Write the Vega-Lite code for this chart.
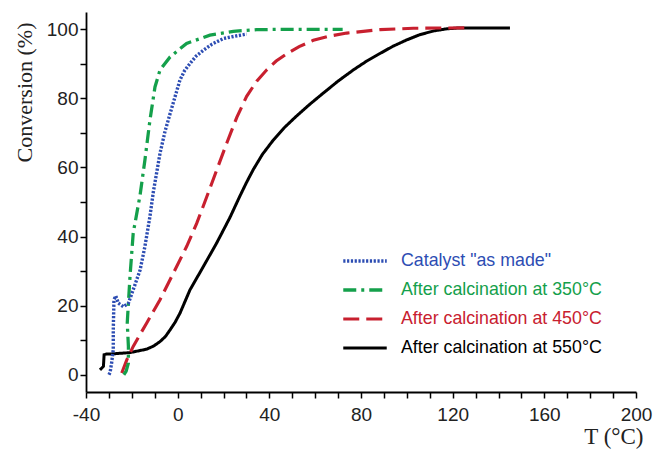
{
  "$schema": "https://vega.github.io/schema/vega-lite/v6.json",
  "autosize": {"type": "none"},
  "padding": {"left": 86, "top": 12, "right": 19, "bottom": 57},
  "width": 550,
  "height": 380,
  "background": "white",
  "config": {"view": {"stroke": null}},
  "data": {"values": [
    {"s": "After calcination at 550°C", "i": 1, "T": -33.9, "C": 1.4},
    {"s": "After calcination at 550°C", "i": 2, "T": -32.4, "C": 2.4},
    {"s": "After calcination at 550°C", "i": 3, "T": -32.1, "C": 5.8},
    {"s": "After calcination at 550°C", "i": 4, "T": -31, "C": 6},
    {"s": "After calcination at 550°C", "i": 5, "T": -29.5, "C": 6},
    {"s": "After calcination at 550°C", "i": 6, "T": -20.8, "C": 6.4},
    {"s": "After calcination at 550°C", "i": 7, "T": -13.5, "C": 7.4},
    {"s": "After calcination at 550°C", "i": 8, "T": -10.5, "C": 8.3},
    {"s": "After calcination at 550°C", "i": 9, "T": -7.7, "C": 9.6},
    {"s": "After calcination at 550°C", "i": 10, "T": -5.3, "C": 11.1},
    {"s": "After calcination at 550°C", "i": 11, "T": -3.3, "C": 13},
    {"s": "After calcination at 550°C", "i": 12, "T": -1.1, "C": 15.2},
    {"s": "After calcination at 550°C", "i": 13, "T": 1.0, "C": 17.8},
    {"s": "After calcination at 550°C", "i": 14, "T": 5.4, "C": 24.6},
    {"s": "After calcination at 550°C", "i": 15, "T": 11.2, "C": 31.3},
    {"s": "After calcination at 550°C", "i": 16, "T": 17.0, "C": 38.1},
    {"s": "After calcination at 550°C", "i": 17, "T": 22.8, "C": 45.5},
    {"s": "After calcination at 550°C", "i": 18, "T": 27.0, "C": 51.5},
    {"s": "After calcination at 550°C", "i": 19, "T": 30.0, "C": 55.6},
    {"s": "After calcination at 550°C", "i": 20, "T": 33.0, "C": 59.4},
    {"s": "After calcination at 550°C", "i": 21, "T": 37.0, "C": 63.8},
    {"s": "After calcination at 550°C", "i": 22, "T": 41.7, "C": 67.9},
    {"s": "After calcination at 550°C", "i": 23, "T": 46.5, "C": 71.5},
    {"s": "After calcination at 550°C", "i": 24, "T": 51.9, "C": 74.9},
    {"s": "After calcination at 550°C", "i": 25, "T": 57.5, "C": 78.2},
    {"s": "After calcination at 550°C", "i": 26, "T": 63.5, "C": 81.5},
    {"s": "After calcination at 550°C", "i": 27, "T": 70, "C": 85},
    {"s": "After calcination at 550°C", "i": 28, "T": 76.6, "C": 88.2},
    {"s": "After calcination at 550°C", "i": 29, "T": 82.5, "C": 90.8},
    {"s": "After calcination at 550°C", "i": 30, "T": 88.3, "C": 93},
    {"s": "After calcination at 550°C", "i": 31, "T": 94, "C": 95.1},
    {"s": "After calcination at 550°C", "i": 32, "T": 99.9, "C": 96.9},
    {"s": "After calcination at 550°C", "i": 33, "T": 105.5, "C": 98.4},
    {"s": "After calcination at 550°C", "i": 34, "T": 111.6, "C": 99.5},
    {"s": "After calcination at 550°C", "i": 35, "T": 117, "C": 100.1},
    {"s": "After calcination at 550°C", "i": 36, "T": 123.2, "C": 100.4},
    {"s": "After calcination at 550°C", "i": 37, "T": 145, "C": 100.4},
    {"s": "After calcination at 450°C", "i": 1, "T": -24.4, "C": 0.5},
    {"s": "After calcination at 450°C", "i": 2, "T": -22.2, "C": 4.3},
    {"s": "After calcination at 450°C", "i": 3, "T": -19.4, "C": 8.2},
    {"s": "After calcination at 450°C", "i": 4, "T": -13.5, "C": 15},
    {"s": "After calcination at 450°C", "i": 5, "T": -7.7, "C": 21.7},
    {"s": "After calcination at 450°C", "i": 6, "T": -1.9, "C": 29.4},
    {"s": "After calcination at 450°C", "i": 7, "T": 3.9, "C": 37.1},
    {"s": "After calcination at 450°C", "i": 8, "T": 8.3, "C": 43.8},
    {"s": "After calcination at 450°C", "i": 9, "T": 12.7, "C": 51.5},
    {"s": "After calcination at 450°C", "i": 10, "T": 17.0, "C": 59.2},
    {"s": "After calcination at 450°C", "i": 11, "T": 21.4, "C": 67},
    {"s": "After calcination at 450°C", "i": 12, "T": 25.8, "C": 74.5},
    {"s": "After calcination at 450°C", "i": 13, "T": 30.1, "C": 80.6},
    {"s": "After calcination at 450°C", "i": 14, "T": 34.5, "C": 85},
    {"s": "After calcination at 450°C", "i": 15, "T": 38.8, "C": 88.2},
    {"s": "After calcination at 450°C", "i": 16, "T": 43, "C": 90.8},
    {"s": "After calcination at 450°C", "i": 17, "T": 47.6, "C": 92.9},
    {"s": "After calcination at 450°C", "i": 18, "T": 53, "C": 95},
    {"s": "After calcination at 450°C", "i": 19, "T": 59.2, "C": 96.8},
    {"s": "After calcination at 450°C", "i": 20, "T": 66, "C": 98},
    {"s": "After calcination at 450°C", "i": 21, "T": 73.8, "C": 98.9},
    {"s": "After calcination at 450°C", "i": 22, "T": 88.3, "C": 99.9},
    {"s": "After calcination at 450°C", "i": 23, "T": 102.8, "C": 100.3},
    {"s": "After calcination at 450°C", "i": 24, "T": 126, "C": 100.4},
    {"s": "After calcination at 350°C", "i": 1, "T": -23.5, "C": 0},
    {"s": "After calcination at 350°C", "i": 2, "T": -22.5, "C": 1},
    {"s": "After calcination at 350°C", "i": 3, "T": -21.5, "C": 3.4},
    {"s": "After calcination at 350°C", "i": 4, "T": -21.5, "C": 8.2},
    {"s": "After calcination at 350°C", "i": 5, "T": -22, "C": 15},
    {"s": "After calcination at 350°C", "i": 6, "T": -21.5, "C": 20.7},
    {"s": "After calcination at 350°C", "i": 7, "T": -20.8, "C": 28.4},
    {"s": "After calcination at 350°C", "i": 8, "T": -19.4, "C": 41},
    {"s": "After calcination at 350°C", "i": 9, "T": -16.4, "C": 52},
    {"s": "After calcination at 350°C", "i": 10, "T": -14.3, "C": 62.1},
    {"s": "After calcination at 350°C", "i": 11, "T": -12.1, "C": 73.7},
    {"s": "After calcination at 350°C", "i": 12, "T": -9.9, "C": 83.3},
    {"s": "After calcination at 350°C", "i": 13, "T": -7.7, "C": 88.2},
    {"s": "After calcination at 350°C", "i": 14, "T": -3.3, "C": 92},
    {"s": "After calcination at 350°C", "i": 15, "T": 3.9, "C": 95.9},
    {"s": "After calcination at 350°C", "i": 16, "T": 14.1, "C": 98.3},
    {"s": "After calcination at 350°C", "i": 17, "T": 24.3, "C": 99.4},
    {"s": "After calcination at 350°C", "i": 18, "T": 34.5, "C": 99.9},
    {"s": "After calcination at 350°C", "i": 19, "T": 50, "C": 100},
    {"s": "After calcination at 350°C", "i": 20, "T": 72, "C": 100},
    {"s": "Catalyst \"as made\"", "i": 1, "T": -30, "C": 0},
    {"s": "Catalyst \"as made\"", "i": 2, "T": -29.5, "C": 0.6},
    {"s": "Catalyst \"as made\"", "i": 3, "T": -28.8, "C": 3.5},
    {"s": "Catalyst \"as made\"", "i": 4, "T": -28.1, "C": 7.2},
    {"s": "Catalyst \"as made\"", "i": 5, "T": -28.1, "C": 13},
    {"s": "Catalyst \"as made\"", "i": 6, "T": -27.8, "C": 21.7},
    {"s": "Catalyst \"as made\"", "i": 7, "T": -27, "C": 22.8},
    {"s": "Catalyst \"as made\"", "i": 8, "T": -25.9, "C": 20.7},
    {"s": "Catalyst \"as made\"", "i": 9, "T": -23.7, "C": 19.7},
    {"s": "Catalyst \"as made\"", "i": 10, "T": -21.5, "C": 20.7},
    {"s": "Catalyst \"as made\"", "i": 11, "T": -19.4, "C": 24.6},
    {"s": "Catalyst \"as made\"", "i": 12, "T": -16.4, "C": 30.3},
    {"s": "Catalyst \"as made\"", "i": 13, "T": -14.3, "C": 37.1},
    {"s": "Catalyst \"as made\"", "i": 14, "T": -12.1, "C": 45.8},
    {"s": "Catalyst \"as made\"", "i": 15, "T": -10.6, "C": 53},
    {"s": "Catalyst \"as made\"", "i": 16, "T": -7.7, "C": 64.1},
    {"s": "Catalyst \"as made\"", "i": 17, "T": -5.5, "C": 70.5},
    {"s": "Catalyst \"as made\"", "i": 18, "T": -3.3, "C": 75.6},
    {"s": "Catalyst \"as made\"", "i": 19, "T": -1, "C": 80.8},
    {"s": "Catalyst \"as made\"", "i": 20, "T": 1.0, "C": 85.3},
    {"s": "Catalyst \"as made\"", "i": 21, "T": 3, "C": 88},
    {"s": "Catalyst \"as made\"", "i": 22, "T": 5.4, "C": 90.1},
    {"s": "Catalyst \"as made\"", "i": 23, "T": 8, "C": 92.2},
    {"s": "Catalyst \"as made\"", "i": 24, "T": 11.2, "C": 93.9},
    {"s": "Catalyst \"as made\"", "i": 25, "T": 15, "C": 95.7},
    {"s": "Catalyst \"as made\"", "i": 26, "T": 19.9, "C": 97.3},
    {"s": "Catalyst \"as made\"", "i": 27, "T": 25, "C": 98},
    {"s": "Catalyst \"as made\"", "i": 28, "T": 30.1, "C": 98.6}
  ]},
  "mark": {"type": "line", "clip": true},
  "encoding": {
    "x": {
      "field": "T", "type": "quantitative",
      "scale": {"domain": [-40, 200], "nice": false, "zero": false},
      "axis": {
        "title": "T (°C)",
        "values": [-40,-30,-20,-10,0,10,20,30,40,50,60,70,80,90,100,110,120,130,140,150,160,170,180,190,200],
        "labelExpr": "datum.value % 40 === 0 ? '' + datum.value : ''",
        "grid": false,
        "domainColor": "#000", "domainWidth": 1.8,
        "tickColor": "#000", "tickWidth": 1.5, "tickSize": 6,
        "labelFont": "Liberation Sans", "labelFontSize": 19, "labelColor": "#222", "labelPadding": 7,
        "labelFlush": false, "labelOverlap": false,
        "titleFont": "Liberation Serif", "titleFontSize": 23, "titleFontWeight": "normal", "titleColor": "#222",
        "titleAnchor": "end", "titleAlign": "right", "titleX": 557, "titlePadding": 1
      }
    },
    "y": {
      "field": "C", "type": "quantitative",
      "scale": {"domain": [-5, 105], "nice": false, "zero": false},
      "axis": {
        "title": "Conversion (%)",
        "values": [0,10,20,30,40,50,60,70,80,90,100],
        "labelExpr": "datum.value % 20 === 0 ? '' + datum.value : ''",
        "grid": false,
        "domainColor": "#000", "domainWidth": 1.8,
        "tickColor": "#000", "tickWidth": 1.5, "tickSize": 6,
        "labelFont": "Liberation Sans", "labelFontSize": 19, "labelColor": "#222", "labelPadding": 2,
        "labelFlush": false, "labelOverlap": false,
        "titleFont": "Liberation Serif", "titleFontSize": 22, "titleFontWeight": "normal", "titleColor": "#222",
        "titleAnchor": "end", "titleAlign": "right", "titleY": 10, "titlePadding": 10
      }
    },
    "color": {
      "field": "s", "type": "nominal",
      "scale": {
        "domain": ["Catalyst \"as made\"", "After calcination at 350°C", "After calcination at 450°C", "After calcination at 550°C"],
        "range": ["#2d4db3", "#14a04b", "#c8202f", "#000000"]
      },
      "legend": {
        "title": null, "orient": "none", "legendX": 270, "legendY": 240,
        "symbolType": "M-3,0H3", "symbolSize": 210, "symbolStrokeWidth": 3,
        "labelFont": "Liberation Sans", "labelFontSize": 17.8, "labelOffset": 27, "labelLimit": 400,
        "rowPadding": 11,
        "encode": {"labels": {"update": {"fill": {"scale": "color", "field": "value"}}}}
      }
    },
    "strokeDash": {
      "field": "s", "type": "nominal",
      "scale": {
        "domain": ["Catalyst \"as made\"", "After calcination at 350°C", "After calcination at 450°C", "After calcination at 550°C"],
        "range": [[2.2, 1.6], [13, 5, 3, 5], [16, 7], [1, 0]]
      },
      "legend": {
        "title": null, "orient": "none", "legendX": 270, "legendY": 240,
        "symbolType": "M-3,0H3", "symbolSize": 210, "symbolStrokeWidth": 3,
        "labelFont": "Liberation Sans", "labelFontSize": 17.8, "labelOffset": 27, "labelLimit": 400,
        "rowPadding": 11,
        "encode": {"labels": {"update": {"fill": {"scale": "color", "field": "value"}}}}
      }
    },
    "strokeWidth": {
      "field": "s", "type": "nominal", "legend": null,
      "scale": {
        "domain": ["Catalyst \"as made\"", "After calcination at 350°C", "After calcination at 450°C", "After calcination at 550°C"],
        "range": [3.4, 3, 3, 3]
      }
    },
    "order": {"field": "i", "type": "quantitative"}
  }
}
